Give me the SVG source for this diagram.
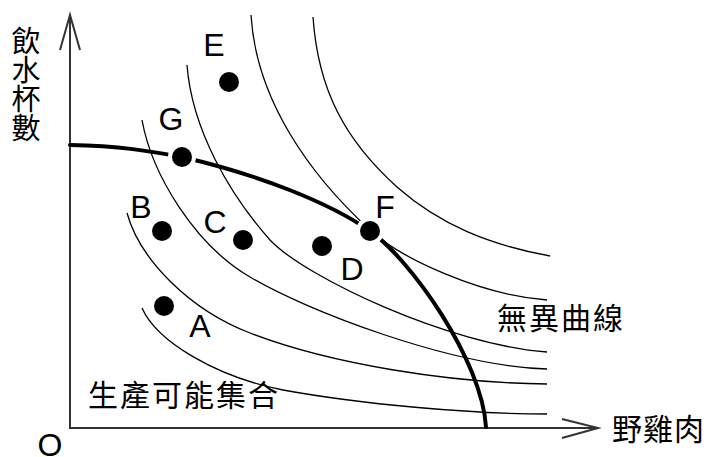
<svg xmlns="http://www.w3.org/2000/svg" width="707" height="457" viewBox="0 0 707 457">
<style>
.axis{fill:none;stroke:#333;stroke-width:2}
.ic{fill:none;stroke:#000;stroke-width:1.3}
.ppf{fill:none;stroke:#000;stroke-width:4;stroke-linecap:round}
.dot{fill:#000;stroke:#fff;stroke-width:8;paint-order:stroke}
.lab{font-family:"Liberation Sans",Arial,sans-serif;font-size:32px;fill:#000;text-anchor:middle}
.cjk{font-family:"Noto Sans CJK TC","Noto Sans CJK SC",sans-serif;font-size:30px;fill:#000}
</style>
<rect width="707" height="457" fill="#fff"/>
<g id="axes">
<path class="axis" d="M70,15 V428 H597"/>
<path class="axis" d="M60,50 L70,15 L80,50"/>
<path class="axis" d="M562,419 L598,428 L562,438"/>
</g>
<g id="connectors">
<path id="ic1" class="ic" d="M142,308 C157,342 217,377 283,390 C360,404 470,414 547,414"/>
<path id="ic2" class="ic" d="M127,213 C140,260 190,310 250,333 C330,364 450,383 547,384"/>
<path id="ic3" class="ic" d="M142,120 C152,175 195,245 250,277 C305,310 450,366 547,369"/>
<path id="ic4" class="ic" d="M187,65 C192,130 230,195 270,240 C306,278 450,345 547,352"/>
<path id="ic5" class="ic" d="M251,15 C256,100 310,175 370,230 C400,258 480,295 547,300"/>
<path id="ic6" class="ic" d="M313,17 C318,90 345,140 397,187 C440,225 490,245 550,256"/>
<path id="ppf" class="ppf" d="M70,145 C120,146 150,151 182,157 C260,175 330,203 370,231 C410,259 482,360 486,427"/>
</g>
<g id="nodeA"><circle class="dot" cx="164" cy="306" r="10"/><text class="lab" x="200" y="337">A</text></g>
<g id="nodeB"><circle class="dot" cx="162" cy="231" r="10"/><text class="lab" x="141" y="218">B</text></g>
<g id="nodeC"><circle class="dot" cx="243" cy="240" r="10"/><text class="lab" x="215" y="233">C</text></g>
<g id="nodeD"><circle class="dot" cx="322" cy="246" r="10"/><text class="lab" x="352" y="280">D</text></g>
<g id="nodeE"><circle class="dot" cx="229" cy="82" r="10"/><text class="lab" x="214" y="56">E</text></g>
<g id="nodeF"><circle class="dot" cx="370" cy="231" r="10"/><text class="lab" x="385" y="218">F</text></g>
<g id="nodeG"><circle class="dot" cx="182" cy="157" r="10"/><text class="lab" x="171" y="130">G</text></g>
<g id="labels">
<text class="lab" x="50" y="456">O</text>
<text class="cjk" x="26" y="26" style="font-size:29px;writing-mode:vertical-rl">飲水杯數</text>
<text class="cjk" x="88" y="406" letter-spacing="2">生產可能集合</text>
<text class="cjk" x="497" y="329" letter-spacing="2">無異曲線</text>
<text class="cjk" x="612" y="440" letter-spacing="1">野雞肉</text>
</g>
</svg>
